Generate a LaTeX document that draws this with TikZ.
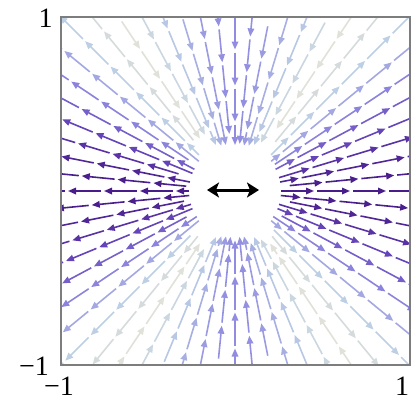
\documentclass[tikz,border=0pt]{standalone}
\usepackage{fontspec}
\setmainfont{Liberation Serif}
\usetikzlibrary{arrows.meta}
\definecolor{c0}{RGB}{230,228,215}
\definecolor{c1}{RGB}{188,207,228}
\definecolor{c2}{RGB}{145,140,225}
\definecolor{c3}{RGB}{105,72,190}
\definecolor{c4}{RGB}{72,28,138}
\definecolor{framegray}{RGB}{125,125,125}
\tikzset{
  fld/.style={line width=1.6pt,-{Triangle[length=8pt,width=6.5pt]}},
  lbl/.style={inner sep=0pt,font={\fontsize{28}{28}\selectfont}},
  centerarrow/.style={line width=3pt,{Stealth[length=12pt,width=15pt,inset=3pt]}-{Stealth[length=12pt,width=15pt,inset=3pt]}}
}
\begin{document}
\begin{tikzpicture}[x=1pt,y=-1pt]
\useasboundingbox (0,0) rectangle (411,400);
\coordinate (O) at (235,191);
\begin{scope}
\clip (61,17) rectangle (410,365);
\foreach \k in {0,...,63}{
  \pgfmathsetmacro\a{\k*5.625}
  \pgfmathsetmacro\f{3*cos(\a)^2-1}
  \pgfmathsetmacro\t{min(abs(\f)/2,1)}
  \pgfmathsetmacro\rmax{174.5/max(abs(cos(\a)),abs(sin(\a)))+8}
  \pgfmathsetmacro\rmin{46+20*(1-min(abs(\f),1))^2}
  \pgfmathsetmacro\ph{mod(\k*13,36)}
  \pgfmathtruncatemacro\seg{min(floor(\t*4),3)}
  \pgfmathtruncatemacro\p{(\t*4-\seg)*100}
  \ifcase\seg \colorlet{lc}{c1!\p!c0}\or \colorlet{lc}{c2!\p!c1}\or \colorlet{lc}{c3!\p!c2}\or \colorlet{lc}{c4!\p!c3}\fi
  \ifdim\f pt>0pt
    \foreach \j in {0,...,6}{
      \pgfmathsetmacro\s{max(\rmin+\j*36-\ph,\rmin)}
      \pgfmathsetmacro\e{\rmin+\j*36-\ph+33}
      \ifdim\s pt<\rmax pt
        \pgfmathsetmacro\len{\e-\s}
        \ifdim\len pt>10pt
          \draw[fld,lc] ({235+\s*cos(\a)},{191+\s*sin(\a)}) -- ({235+\e*cos(\a)},{191+\e*sin(\a)});
        \fi
      \fi
    }
  \else
    \foreach \j in {0,...,6}{
      \pgfmathsetmacro\s{\rmax-\j*36+\ph-20}
      \pgfmathsetmacro\e{max(\s-33,\rmin)}
      \pgfmathsetmacro\len{\s-\e}
      \ifdim\len pt>10pt
        \draw[fld,lc] ({235+\s*cos(\a)},{191+\s*sin(\a)}) -- ({235+\e*cos(\a)},{191+\e*sin(\a)});
      \fi
    }
  \fi
}
\end{scope}
\draw[framegray,line width=1.3pt] (61,17) rectangle (410,365);
\coordinate (dl) at (207,190);
\coordinate (dr) at (259,190);
\draw[centerarrow] (dl) -- (dr);
\node[lbl] (ytop) at (45.5,18) {1};
\node[lbl] (ybot) at (34,366) {−1};
\node[lbl] (xleft) at (59,386) {−1};
\node[lbl] (xright) at (402,386) {1};
\end{tikzpicture}
\end{document}
